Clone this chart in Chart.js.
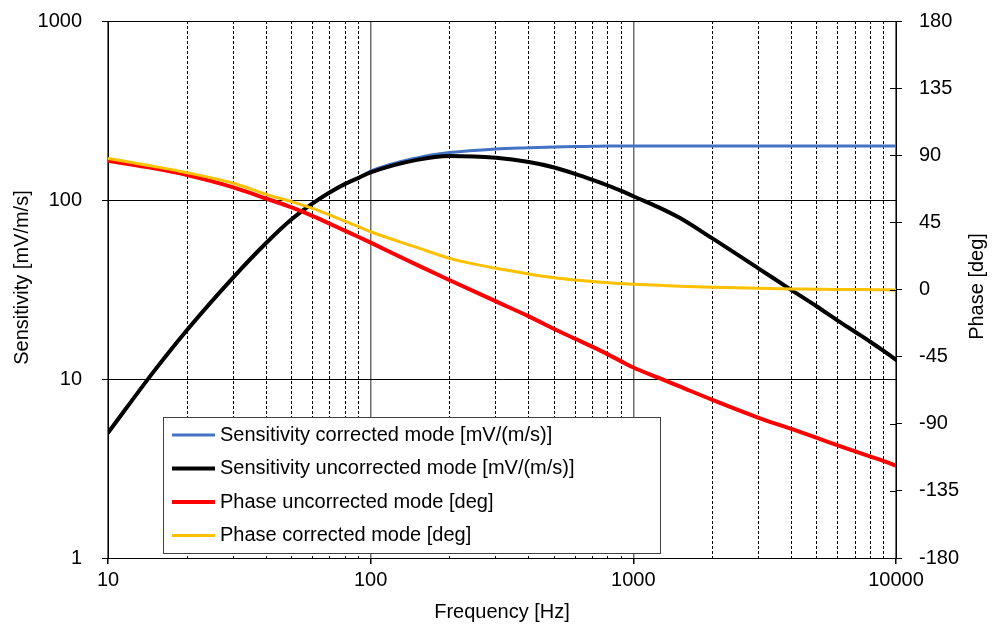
<!DOCTYPE html>
<html>
<head>
<meta charset="utf-8">
<script src="https://cdn.jsdelivr.net/npm/chart.js@4.4.1/dist/chart.umd.min.js"></script>
<style>
  html, body { margin: 0; padding: 0; background: #fff; }
  #wrap { width: 1001px; height: 639px; }
</style>
</head>
<body>
<div id="wrap"><canvas id="chart"></canvas></div>
<script>
// frequencies [Hz]
const freqs = [10, 15, 20, 30, 40, 50, 60, 70, 80, 90, 100, 150, 200, 300, 400, 500, 600, 700, 800, 900,
  1000, 1250, 1500, 2000, 3000, 4000, 5000, 6000, 7000, 8000, 9000, 10000];

// sensitivity [mV/(m/s)]
const sensCorrected = [5.0, 11.1, 18.8, 37, 57.5, 78, 95.5, 110.5, 123, 133, 145, 172, 184, 193, 196, 198, 199, 199.5, 200, 200,
  200, 200, 200, 200, 200, 200, 200, 200, 200, 200, 200, 200];
const sensUncorrected = [5.0, 11.1, 18.8, 37, 57.5, 78, 95.5, 110.5, 123, 133, 142.5, 167.5, 176, 172, 163, 152, 140, 129.5, 120.5, 112.5,
  105, 91, 79.5, 61, 41.4, 31.4, 25.4, 21.2, 18.3, 16.1, 14.3, 12.8];

// phase [deg]
const phaseUncorrected = [86.3, 81.2, 76.7, 68.5, 61, 55, 49.3, 44, 39.3, 35.2, 31.4, 16.5, 6.2, -8, -18, -26.5, -33, -38.5, -43.5, -48.2,
  -52.3, -59.3, -65, -74, -86, -93.5, -99.5, -104.5, -108.5, -112, -115, -118];
const phaseCorrected = [87.9, 82.5, 78.3, 71.2, 63.8, 58.9, 54.4, 49.9, 45.6, 42.1, 38.7, 28.2, 20.9, 14.2, 10.4, 7.9, 6.4, 5.3, 4.5, 4.0,
  3.6, 2.9, 2.2, 1.5, 0.8, 0.4, 0.2, 0, 0, -0.1, -0.2, -0.3];

// tick labels
const freqDecades = [10, 100, 1000, 10000];
const sensTicks = [1, 10, 100, 1000];
const phaseTicks = [-180, -135, -90, -45, 0, 45, 90, 135, 180];

const FONT = "'Liberation Sans', Arial, sans-serif";

// grid positions for the x axis: decades plus 2..9 inside each decade
const freqGrid = [];
freqDecades.forEach((d, i) => {
  freqGrid.push(d);
  if (i < freqDecades.length - 1) {
    for (let m = 2; m <= 9; m++) freqGrid.push(d * m);
  }
});
const isDecade = v => freqDecades.includes(v);

const pts = arr => freqs.map((f, i) => ({ x: f, y: arr[i] }));

// fixed axis sizes so the plot area sits where the original one does
const fixWidth = w => s => { s.width = w; s.paddingTop = 0; s.paddingBottom = 0; };

// legend box inside the plot, y-axis titles and crossing ticks on the right axis
const overlay = {
  id: 'overlay',
  afterDraw(chart) {
    const { ctx, chartArea: a } = chart;
    ctx.save();

    // inner half of the right-axis ticks
    const r = chart.scales.y1;
    ctx.strokeStyle = '#000';
    ctx.lineWidth = 1;
    r.ticks.forEach(t => {
      const y = Math.round(r.getPixelForValue(t.value)) + 0.5;
      ctx.beginPath();
      ctx.moveTo(a.right - 6, y);
      ctx.lineTo(a.right, y);
      ctx.stroke();
    });

    // legend
    const bx = a.left + 55, by = a.bottom - 141, bw = 497, bh = 136;
    ctx.fillStyle = '#fff';
    ctx.fillRect(bx, by, bw, bh);
    ctx.strokeStyle = '#404040';
    ctx.lineWidth = 1;
    ctx.strokeRect(bx + 0.5, by + 0.5, bw, bh);
    ctx.font = '20px ' + FONT;
    ctx.textBaseline = 'middle';
    ctx.textAlign = 'left';
    chart.data.datasets.forEach((ds, i) => {
      const y = by + 18 + i * 33.5;
      ctx.strokeStyle = ds.borderColor;
      ctx.lineWidth = ds.borderWidth;
      ctx.beginPath();
      ctx.moveTo(bx + 9, y);
      ctx.lineTo(bx + 52, y);
      ctx.stroke();
      ctx.fillStyle = '#000';
      ctx.fillText(ds.label, bx + 57, y);
    });

    // axis titles
    ctx.fillStyle = '#000';
    ctx.textAlign = 'center';
    ctx.save();
    ctx.translate(22, (a.top + a.bottom) / 2 - 12);
    ctx.rotate(-Math.PI / 2);
    ctx.fillText('Sensitivity [mV/m/s]', 0, 0);
    ctx.restore();
    ctx.save();
    ctx.translate(chart.width - 24, (a.top + a.bottom) / 2 - 3);
    ctx.rotate(-Math.PI / 2);
    ctx.fillText('Phase [deg]', 0, 0);
    ctx.restore();

    ctx.restore();
  }
};

new Chart(document.getElementById('chart'), {
  type: 'line',
  data: {
    datasets: [
      {
        label: 'Sensitivity corrected mode [mV/(m/s)]',
        data: pts(sensCorrected),
        borderColor: '#4472C4',
        borderWidth: 3,
        yAxisID: 'y',
        order: 4
      },
      {
        label: 'Sensitivity uncorrected mode [mV/(m/s)]',
        data: pts(sensUncorrected),
        borderColor: '#000000',
        borderWidth: 4,
        yAxisID: 'y',
        order: 3
      },
      {
        label: 'Phase uncorrected mode [deg]',
        data: pts(phaseUncorrected),
        borderColor: '#FF0000',
        borderWidth: 4,
        yAxisID: 'y1',
        order: 2
      },
      {
        label: 'Phase corrected mode [deg]',
        data: pts(phaseCorrected),
        borderColor: '#FFC000',
        borderWidth: 3,
        yAxisID: 'y1',
        order: 1
      }
    ]
  },
  options: {
    responsive: true,
    maintainAspectRatio: false,
    animation: false,
    layout: { padding: { top: 21, left: 0, right: 0, bottom: 0 } },
    elements: {
      point: { radius: 0 },
      line: { cubicInterpolationMode: 'monotone', borderCapStyle: 'round', borderJoinStyle: 'round' }
    },
    plugins: {
      legend: { display: false },
      tooltip: { enabled: false }
    },
    scales: {
      x: {
        type: 'logarithmic',
        min: 10,
        max: 10000,
        afterBuildTicks: s => { s.ticks = freqGrid.map(v => ({ value: v })); },
        afterFit: s => { s.height = 81; },
        ticks: {
          autoSkip: false,
          maxRotation: 0,
          padding: 4,
          color: '#000',
          font: { family: FONT, size: 20 },
          callback: v => (isDecade(v) ? String(v) : '')
        },
        grid: {
          color: c => (c.tick && isDecade(c.tick.value) ? '#6e6e6e' : '#000'),
          lineWidth: c => (c.tick && isDecade(c.tick.value) ? 1.5 : 1),
          tickColor: c => (c.tick && isDecade(c.tick.value) ? '#000' : 'rgba(0,0,0,0)'),
          tickLength: 6
        },
        border: {
          color: '#000',
          width: 1,
          dash: c => (c.tick && !isDecade(c.tick.value) ? [3, 2] : [])
        },
        title: {
          display: true,
          text: 'Frequency [Hz]',
          color: '#000',
          font: { family: FONT, size: 20 },
          padding: { top: 0, bottom: 15 }
        }
      },
      y: {
        type: 'logarithmic',
        position: 'left',
        min: 1,
        max: 1000,
        afterBuildTicks: s => { s.ticks = sensTicks.map(v => ({ value: v })); },
        afterFit: fixWidth(108),
        ticks: {
          padding: 20,
          color: '#000',
          font: { family: FONT, size: 20 },
          callback: v => String(v)
        },
        grid: { color: '#000', lineWidth: 1, tickLength: 6, tickColor: '#000' },
        border: { color: '#000', width: 1 }
      },
      y1: {
        type: 'linear',
        position: 'right',
        min: -180,
        max: 180,
        afterBuildTicks: s => { s.ticks = phaseTicks.map(v => ({ value: v })); },
        afterFit: fixWidth(105),
        ticks: {
          padding: 17,
          color: '#000',
          font: { family: FONT, size: 20 },
          callback: v => String(v)
        },
        grid: { drawOnChartArea: false, tickLength: 6, tickColor: '#000' },
        border: { color: '#000', width: 1 }
      }
    }
  },
  plugins: [overlay]
});
</script>
</body>
</html>
